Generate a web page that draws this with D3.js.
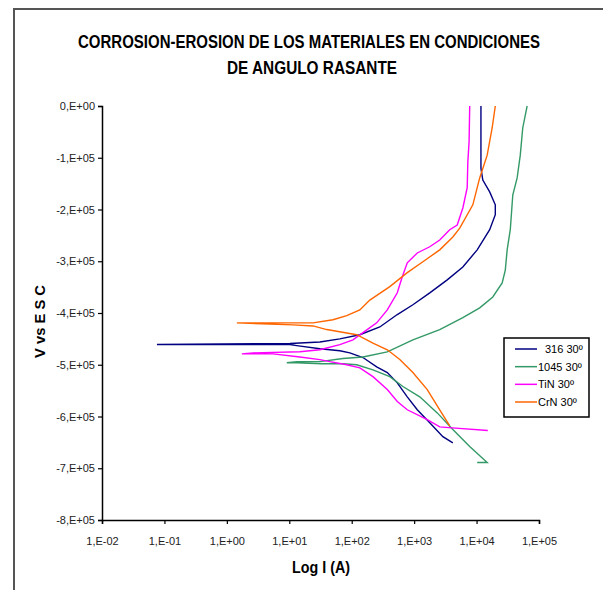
<!DOCTYPE html>
<html lang="es">
<head>
<meta charset="UTF-8">
<title>Corrosion-erosion</title>
<style>
  body { margin: 0; background: #fff; }
  text { font-family: "Liberation Sans", Arial, sans-serif; }
</style>
</head>
<body>
<script src="https://d3js.org/d3.v7.min.js"></script>
<script>
var width = 603;
var height = 590;

var titleLines = ["CORROSION-EROSION DE LOS MATERIALES EN CONDICIONES", "DE ANGULO RASANTE"];
var xLabel = "Log I (A)";
var yLabel = "V vs E S C";

var xTicks = [1e-2, 1e-1, 1e0, 1e1, 1e2, 1e3, 1e4, 1e5];
var xTickLabels = ["1,E-02", "1,E-01", "1,E+00", "1,E+01", "1,E+02", "1,E+03", "1,E+04", "1,E+05"];
var yTicks = [0, -1e5, -2e5, -3e5, -4e5, -5e5, -6e5, -7e5, -8e5];
var yTickLabels = ["0,E+00", "-1,E+05", "-2,E+05", "-3,E+05", "-4,E+05", "-5,E+05", "-6,E+05", "-7,E+05", "-8,E+05"];

var seriesNames = ["316 30º", "1045 30º", "TiN 30º", "CrN 30º"];
var seriesColors = ["#000080", "#339966", "#ff00ff", "#ff6600"];

// curvas de polarizacion: rama catodica -> Ecorr -> rama anodica
// log I y V
var logI316 = [3.62, 3.46, 3.25, 3.05, 2.89, 2.73, 2.57, 2.40, 2.18, 1.97, 1.81, 1.49, 1.12, 1.01, -1.12,
  1.01, 1.49, 1.81, 2.13, 2.45, 2.73, 2.98, 3.25, 3.53, 3.78, 4.01, 4.21, 4.30, 4.30, 4.21, 4.10, 4.07, 4.07];
var v316 = [-6.51e5, -6.39e5, -6.12e5, -5.87e5, -5.62e5, -5.35e5, -5.15e5, -5.04e5, -4.86e5, -4.77e5, -4.73e5, -4.69e5, -4.63e5, -4.61e5, -4.61e5,
  -4.59e5, -4.56e5, -4.50e5, -4.42e5, -4.27e5, -4.03e5, -3.84e5, -3.61e5, -3.36e5, -3.11e5, -2.78e5, -2.39e5, -2.10e5, -1.91e5, -1.66e5, -1.43e5, -1.20e5, 0];

var logI1045 = [4.01, 4.17, 3.89, 3.62, 3.37, 3.09, 2.82, 2.61, 2.34, 2.08, 1.86, 1.52, 1.12, 0.96,
  1.12, 1.49, 1.86, 2.18, 2.57, 2.98, 3.41, 3.78, 4.05, 4.26, 4.41, 4.46, 4.49, 4.54, 4.58, 4.65, 4.70, 4.74, 4.81];
var v1045 = [-6.89e5, -6.89e5, -6.58e5, -6.25e5, -5.93e5, -5.62e5, -5.42e5, -5.23e5, -5.10e5, -5.00e5, -4.98e5, -4.98e5, -4.96e5, -4.96e5,
  -4.94e5, -4.94e5, -4.88e5, -4.85e5, -4.75e5, -4.52e5, -4.32e5, -4.09e5, -3.90e5, -3.69e5, -3.42e5, -3.17e5, -2.78e5, -2.39e5, -1.72e5, -1.39e5, -0.95e5, -0.42e5, 0];

var logITiN = [4.18, 3.61, 3.41, 3.21, 2.89, 2.73, 2.57, 2.34, 2.13, 1.92, 1.65, 1.49, 1.17, 0.74, 0.24,
  0.42, 1.17, 1.49, 1.81, 2.02, 2.18, 2.40, 2.57, 2.73, 2.81, 2.89, 3.05, 3.25, 3.41, 3.57, 3.69, 3.78, 3.85, 3.86, 3.88, 3.89];
var vTiN = [-6.27e5, -6.22e5, -6.20e5, -6.06e5, -5.87e5, -5.71e5, -5.48e5, -5.23e5, -5.06e5, -5.00e5, -4.94e5, -4.90e5, -4.85e5, -4.79e5, -4.79e5,
  -4.77e5, -4.75e5, -4.71e5, -4.61e5, -4.52e5, -4.38e5, -4.19e5, -3.94e5, -3.61e5, -3.30e5, -3.03e5, -2.84e5, -2.72e5, -2.59e5, -2.39e5, -2.30e5, -1.97e5, -1.58e5, -1.08e5, -0.69e5, 0];

var logICrN = [3.57, 3.41, 3.21, 2.98, 2.77, 2.57, 2.34, 2.08, 1.60, 1.38, 1.06, 0.16,
  1.38, 1.70, 1.92, 2.13, 2.29, 2.61, 2.89, 3.14, 3.41, 3.62, 3.73, 3.94, 4.05, 4.17, 4.25, 4.30];
var vCrN = [-6.18e5, -5.87e5, -5.48e5, -5.15e5, -4.90e5, -4.71e5, -4.58e5, -4.42e5, -4.32e5, -4.25e5, -4.23e5, -4.19e5,
  -4.19e5, -4.13e5, -4.05e5, -3.94e5, -3.75e5, -3.49e5, -3.22e5, -3.01e5, -2.78e5, -2.53e5, -2.36e5, -1.91e5, -1.39e5, -0.95e5, -0.42e5, 0];

var seriesLogI = [logI316, logI1045, logITiN, logICrN];
var seriesV = [v316, v1045, vTiN, vCrN];

var svg = d3.select("body").append("svg").attr("width", width).attr("height", height);
var plot = {left: 102, right: 539, top: 106, bottom: 520};

// marco exterior
svg.append("rect")
  .attr("x", 14).attr("y", 9)
  .attr("width", width).attr("height", height)
  .attr("fill", "none").attr("stroke", "#555").attr("stroke-width", 2);

var x = d3.scaleLog().domain([1e-2, 1e5]).range([plot.left, plot.right]);
var y = d3.scaleLinear().domain([-8e5, 0]).range([plot.bottom, plot.top]);

var xAxis = d3.axisBottom(x).tickValues(xTicks).tickSize(4).tickPadding(13)
  .tickFormat(function(d, i) { return xTickLabels[i]; });
var yAxis = d3.axisLeft(y).tickValues(yTicks).tickSize(4).tickPadding(3)
  .tickFormat(function(d, i) { return yTickLabels[i]; });

var gx = svg.append("g")
  .attr("transform", "translate(0," + plot.bottom + ")")
  .call(xAxis);
var gy = svg.append("g")
  .attr("transform", "translate(" + plot.left + ",0)")
  .call(yAxis);

[gx, gy].forEach(function(g) {
  g.select(".domain").attr("stroke", "#000").attr("stroke-width", 1.5);
  g.selectAll(".tick line").attr("stroke", "#000").attr("stroke-width", 1.2);
  g.selectAll(".tick text").attr("font-size", 11).attr("fill", "#222")
    .attr("font-family", "'Liberation Sans', Arial, sans-serif");
});

// curvas
var line = d3.line()
  .x(function(d) { return x(Math.pow(10, d[0])); })
  .y(function(d) { return y(d[1]); });

seriesNames.forEach(function(name, k) {
  var pts = seriesLogI[k].map(function(l, i) { return [l, seriesV[k][i]]; });
  svg.append("path")
    .datum(pts)
    .attr("d", line)
    .attr("fill", "none")
    .attr("stroke", seriesColors[k])
    .attr("stroke-width", 1.4);
});

// titulo (letra alta y estrecha)
svg.append("text")
  .attr("transform", "translate(78,48) scale(1,1.35)")
  .attr("textLength", 462).attr("lengthAdjust", "spacingAndGlyphs")
  .attr("font-size", 14).attr("font-weight", "bold")
  .text(titleLines[0]);
svg.append("text")
  .attr("transform", "translate(227,74) scale(1,1.35)")
  .attr("textLength", 170).attr("lengthAdjust", "spacingAndGlyphs")
  .attr("font-size", 14).attr("font-weight", "bold")
  .text(titleLines[1]);

// etiquetas de ejes
svg.append("text")
  .attr("x", 292).attr("y", 573)
  .attr("textLength", 58).attr("lengthAdjust", "spacingAndGlyphs")
  .attr("font-size", 17).attr("font-weight", "bold")
  .text(xLabel);
svg.append("text")
  .attr("transform", "translate(45,358) rotate(-90)")
  .attr("textLength", 73).attr("lengthAdjust", "spacingAndGlyphs")
  .attr("font-size", 15).attr("font-weight", "bold")
  .text(yLabel);

// leyenda
var legend = svg.append("g");
legend.append("rect")
  .attr("x", 504).attr("y", 338)
  .attr("width", 85).attr("height", 79)
  .attr("fill", "#fff").attr("stroke", "#000").attr("stroke-width", 1.5);
var legendY = d3.scalePoint().domain(seriesNames).range([349, 402]);
seriesNames.forEach(function(name, k) {
  var ly = legendY(name);
  legend.append("line")
    .attr("x1", 515).attr("x2", 537)
    .attr("y1", ly).attr("y2", ly)
    .attr("stroke", seriesColors[k]).attr("stroke-width", 1.5);
  legend.append("text")
    .attr("x", k === 0 ? 545 : 538).attr("y", ly + 4)
    .attr("font-size", 11)
    .text(name);
});
</script>
</body>
</html>
